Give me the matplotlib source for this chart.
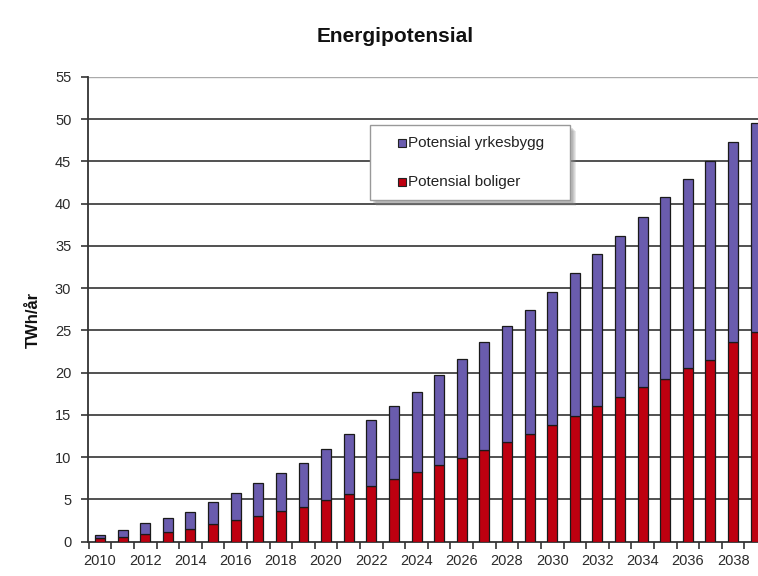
import numpy as np
import matplotlib
matplotlib.use("Agg")
import matplotlib.pyplot as plt
from matplotlib.patches import Rectangle

plt.rcParams['font.family'] = ['Liberation Sans', 'DejaVu Sans']

# data (TWh/år)
years = list(range(2010, 2040))
boliger = [0.4, 0.6, 0.9, 1.2, 1.55, 2.05, 2.55, 3.1, 3.6, 4.15,
           4.9, 5.7, 6.6, 7.4, 8.2, 9.1, 9.9, 10.9, 11.8, 12.8,
           13.8, 14.9, 16.1, 17.1, 18.3, 19.2, 20.5, 21.5, 23.6, 24.8]
totals = [0.75, 1.4, 2.2, 2.85, 3.5, 4.65, 5.8, 7.0, 8.1, 9.3,
          11.0, 12.7, 14.4, 16.1, 17.7, 19.7, 21.6, 23.6, 25.5, 27.4,
          29.6, 31.8, 34.0, 36.2, 38.4, 40.8, 42.9, 45.1, 47.3, 49.6]
yrkesbygg = [t - b for t, b in zip(totals, boliger)]

blue = '#6A5CAE'
red = '#BE0010'

fig = plt.figure(figsize=(7.58, 5.76), dpi=100)
ax = fig.add_axes([88 / 758, 34.3 / 576, 679 / 758, 464.7 / 576])

x = np.arange(len(years))
ax.bar(x, boliger, width=0.44, color=red, edgecolor='#1a1a1a', linewidth=0.9,
       label='Potensial boliger', zorder=3)
ax.bar(x, yrkesbygg, width=0.44, bottom=boliger, color=blue, edgecolor='#1a1a1a',
       linewidth=0.9, label='Potensial yrkesbygg', zorder=3)

ax.set_xlim(-0.53, len(years) - 0.5)
ax.set_ylim(0, 55)
ax.set_yticks(np.arange(0, 56, 5))
for v in range(5, 55, 5):
    ax.axhline(v, color='#333333', linewidth=1.2, zorder=1)
ax.axhline(55, color='#aaaaaa', linewidth=1.0, zorder=1)

# ticks at category boundaries, labels every other year under the bars
ax.set_xticks(np.arange(-0.5, len(years), 1))
ax.set_xticklabels([])
ax.set_xticks(x[::2], minor=True)
ax.set_xticklabels([str(y) for y in years[::2]], minor=True)
ax.tick_params(axis='x', which='minor', length=0, pad=9)
ax.tick_params(axis='x', which='major', length=5, width=1.2, color='#333333', direction='out')
ax.tick_params(axis='y', length=5, width=1.2, color='#333333', direction='out', pad=7)
for lab in ax.get_xticklabels(minor=True) + ax.get_yticklabels():
    lab.set_fontsize(10.5)
    lab.set_color('#2b2b2b')

for s in ['top', 'right']:
    ax.spines[s].set_visible(False)
for s in ['left', 'bottom']:
    ax.spines[s].set_color('#333333')
    ax.spines[s].set_linewidth(1.3)

fig.text(395 / 758, 1 - 37 / 576, 'Energipotensial', ha='center', va='center',
         fontsize=15, fontweight='bold', color='#111111')
fig.text(33 / 758, 1 - 320 / 576, 'TWh/år', ha='center', va='center', rotation=90,
         fontsize=12, fontweight='bold', color='#111111')

# legend box with soft shadow
lx0, ly0, lw, lh = 370 / 758, 1 - 200 / 576, 200 / 758, 75 / 576
for k, a in enumerate([0.18, 0.18, 0.2, 0.25]):
    off = (6 - k) / 758
    fig.patches.append(Rectangle((lx0 + off, ly0 - off * 758 / 576), lw, lh,
                                 transform=fig.transFigure, facecolor='#888888',
                                 edgecolor='none', alpha=a, zorder=4))
fig.patches.append(Rectangle((lx0, ly0), lw, lh, transform=fig.transFigure,
                             facecolor='white', edgecolor='#999999', linewidth=1, zorder=5))
handles, labels = ax.get_legend_handles_labels()
for i, (h, lab) in enumerate(zip(handles[::-1], labels[::-1])):
    yy = 1 - (143 + i * 39) / 576
    fig.patches.append(Rectangle((398 / 758, yy - 4 / 576), 8 / 758, 8 / 576,
                                 transform=fig.transFigure, facecolor=h.patches[0].get_facecolor(),
                                 edgecolor='#222222', linewidth=0.8, zorder=6))
    fig.text(408 / 758, yy, lab, ha='left', va='center', fontsize=11,
             color='#222222', zorder=6)

fig.savefig('out.png', dpi=100)
